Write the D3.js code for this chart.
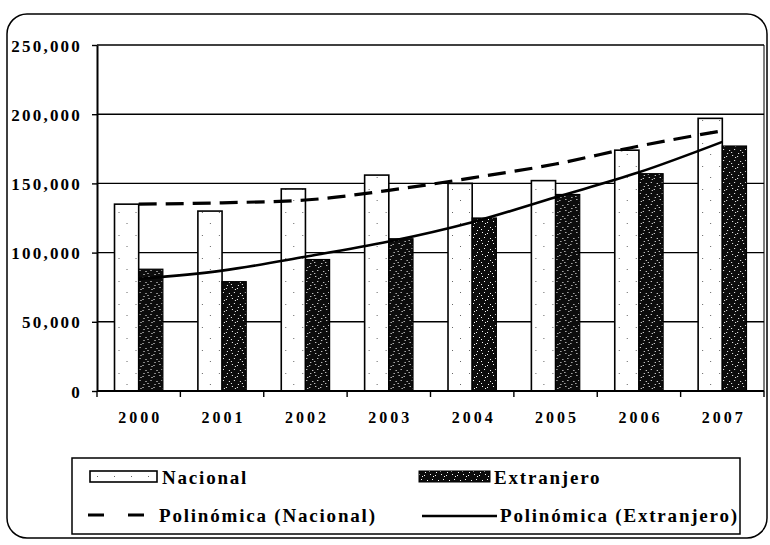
<!DOCTYPE html>
<html>
<head>
<meta charset="utf-8">
<script src="https://cdn.jsdelivr.net/npm/d3@7"></script>
<style>
  html, body { margin: 0; padding: 0; background: #fff; }
  text { font-family: "Liberation Serif", "DejaVu Serif", serif; font-weight: bold; fill: #000; }
</style>
</head>
<body>
<div id="chart"></div>
<script>
// values
const years = ["2000", "2001", "2002", "2003", "2004", "2005", "2006", "2007"];
const nacional = [135000, 130000, 146000, 156000, 150000, 152000, 174000, 197000];
const extranjero = [88000, 79000, 95000, 110000, 125000, 142000, 157000, 177000];
// trend lines (Excel "Polinómica"), read at each category centre
const tendNacional = [135000, 136000, 138000, 145000, 154000, 164000, 177000, 188000];
const tendExtranjero = [81000, 87000, 97000, 108000, 122000, 140000, 158000, 180000];
const yTicks = [0, 50000, 100000, 150000, 200000, 250000];

function chart_init() {

    /*************************
    ***** SET DIMENSIONS *****
    *************************/

    const width = 770;
    const height = 545;
    const plot = {left: 97, right: 764, top: 45, bottom: 391};

    const svg = d3.select("#chart")
        .append("svg")
        .attr("width", width)
        .attr("height", height);

    /*******************
    ***** PATTERNS *****
    *******************/

    const defs = svg.append("defs");

    // dark stipple for Extranjero
    const dark = defs.append("pattern")
        .attr("id", "darkDots")
        .attr("patternUnits", "userSpaceOnUse")
        .attr("width", 11).attr("height", 11);
    dark.append("rect").attr("width", 11).attr("height", 11).attr("fill", "#0c0c0c");
    [[1, 1], [6, 2], [3, 6], [9, 7], [0, 9], [7, 10], [4, 3]].forEach(p => {
        dark.append("rect").attr("x", p[0]).attr("y", p[1])
            .attr("width", 1).attr("height", 1).attr("fill", "#fff");
    });

    // light sparse stipple for Nacional
    const light = defs.append("pattern")
        .attr("id", "lightDots")
        .attr("patternUnits", "userSpaceOnUse")
        .attr("width", 17).attr("height", 23);
    light.append("rect").attr("width", 17).attr("height", 23).attr("fill", "#fff");
    [[4, 5], [12, 16]].forEach(p => {
        light.append("rect").attr("x", p[0]).attr("y", p[1])
            .attr("width", 1).attr("height", 1).attr("fill", "#666");
    });

    /*****************
    ***** SCALES *****
    *****************/

    const x0 = d3.scaleBand()
        .domain(years)
        .range([plot.left, plot.right])
        .paddingInner(0.42)
        .paddingOuter(0.21);

    const x1 = d3.scaleBand()
        .domain(["nacional", "extranjero"])
        .range([0, x0.bandwidth()]);

    const y = d3.scaleLinear()
        .domain([0, 250000])
        .range([plot.bottom, plot.top]);

    /**********************
    ***** OUTER FRAME *****
    **********************/

    svg.append("rect")
        .attr("x", 7).attr("y", 14)
        .attr("width", 760).attr("height", 524)
        .attr("rx", 20).attr("ry", 20)
        .attr("fill", "none")
        .attr("stroke", "#000")
        .attr("stroke-width", 1.5);

    /*****************************
    ***** APPEND AXES & GRID *****
    *****************************/

    // gridlines
    svg.append("g")
        .attr("class", "yGrid")
        .selectAll("line")
        .data(yTicks.filter(d => d > 0))
        .enter()
        .append("line")
        .attr("x1", plot.left).attr("x2", plot.right)
        .attr("y1", d => y(d)).attr("y2", d => y(d))
        .attr("stroke", "#000")
        .attr("stroke-width", 1.4);

    // right border of plot area
    svg.append("line")
        .attr("x1", plot.right).attr("x2", plot.right)
        .attr("y1", plot.top).attr("y2", plot.bottom)
        .attr("stroke", "#000")
        .attr("stroke-width", 1);

    // y-axis
    const yAxis = svg.append("g")
        .attr("class", "yAxis")
        .attr("transform", `translate(${plot.left},0)`)
        .call(d3.axisLeft(y).tickValues(yTicks).tickSize(5).tickSizeOuter(0)
            .tickFormat(d3.format(",")));
    yAxis.select(".domain").attr("stroke", "#000").attr("stroke-width", 2);
    yAxis.selectAll(".tick line").attr("stroke", "#000").attr("stroke-width", 1.4);
    yAxis.selectAll(".tick text")
        .attr("x", -15)
        .attr("dy", "0.36em")
        .style("font-size", "17px")
        .style("letter-spacing", "2.2px")
        .style("font-family", "'Liberation Serif', serif")
        .style("font-weight", "bold")
        .attr("fill", "#000");

    /*******************
    ***** BARS *****
    *******************/

    const groups = svg.append("g")
        .attr("id", "plot")
        .selectAll("g")
        .data(years.map((yr, i) => ({year: yr, nacional: nacional[i], extranjero: extranjero[i]})))
        .enter()
        .append("g")
        .attr("transform", d => `translate(${x0(d.year)},0)`);

    groups.append("rect")
        .attr("x", x1("nacional"))
        .attr("width", x1.bandwidth())
        .attr("y", d => y(d.nacional))
        .attr("height", d => y(0) - y(d.nacional))
        .attr("fill", "url(#lightDots)")
        .attr("stroke", "#000")
        .attr("stroke-width", 1.6);

    groups.append("rect")
        .attr("x", x1("extranjero"))
        .attr("width", x1.bandwidth())
        .attr("y", d => y(d.extranjero))
        .attr("height", d => y(0) - y(d.extranjero))
        .attr("fill", "url(#darkDots)")
        .attr("stroke", "#000")
        .attr("stroke-width", 1.2);

    // x-axis (drawn after bars so baseline sits on top)
    const xAxis = svg.append("g")
        .attr("class", "xAxis")
        .attr("transform", `translate(0,${plot.bottom})`);
    xAxis.append("line")
        .attr("x1", plot.left).attr("x2", plot.right)
        .attr("stroke", "#000").attr("stroke-width", 2);
    const step = x0.step();
    xAxis.selectAll(".xTick")
        .data(d3.range(years.length + 1))
        .enter()
        .append("line")
        .attr("class", "xTick")
        .attr("x1", i => plot.left + i * step)
        .attr("x2", i => plot.left + i * step)
        .attr("y1", 0).attr("y2", 6)
        .attr("stroke", "#000").attr("stroke-width", 1.4);
    xAxis.selectAll(".xLabel")
        .data(years)
        .enter()
        .append("text")
        .attr("class", "xLabel")
        .attr("x", d => x0(d) + x0.bandwidth() / 2 + 1.5)
        .attr("y", 32)
        .attr("text-anchor", "middle")
        .style("font-size", "16px")
        .style("letter-spacing", "3px")
        .text(d => d);

    /*********************
    ***** TREND LINES *****
    *********************/

    const line = d3.line()
        .x((d, i) => x0(years[i]) + x0.bandwidth() / 2)
        .y(d => y(d))
        .curve(d3.curveMonotoneX);

    svg.append("path")
        .datum(tendNacional)
        .attr("d", line)
        .attr("fill", "none")
        .attr("stroke", "#000")
        .attr("stroke-width", 3.2)
        .attr("stroke-dasharray", "18,9");

    svg.append("path")
        .datum(tendExtranjero)
        .attr("d", line)
        .attr("fill", "none")
        .attr("stroke", "#000")
        .attr("stroke-width", 2.6);

    /*****************
    ***** LEGEND *****
    *****************/

    const legend = svg.append("g").attr("id", "legend");

    legend.append("rect")
        .attr("x", 72).attr("y", 458)
        .attr("width", 668).attr("height", 76)
        .attr("fill", "none")
        .attr("stroke", "#000")
        .attr("stroke-width", 1.5);

    const legendText = (x, yy, t) => legend.append("text")
        .attr("x", x).attr("y", yy)
        .style("font-size", "19px")
        .style("letter-spacing", "1.8px")
        .text(t);

    legend.append("rect")
        .attr("x", 90).attr("y", 471).attr("width", 67).attr("height", 11)
        .attr("fill", "url(#lightDots)").attr("stroke", "#000").attr("stroke-width", 1.6);
    legendText(162, 484, "Nacional");

    legend.append("rect")
        .attr("x", 419).attr("y", 471).attr("width", 71).attr("height", 11)
        .attr("fill", "url(#darkDots)").attr("stroke", "#000").attr("stroke-width", 1);
    legendText(494, 484, "Extranjero");

    legend.append("line")
        .attr("x1", 88).attr("x2", 156).attr("y1", 515).attr("y2", 515)
        .attr("stroke", "#000").attr("stroke-width", 3.2)
        .attr("stroke-dasharray", "16,24");
    legendText(159, 522, "Polinómica (Nacional)");

    legend.append("line")
        .attr("x1", 422).attr("x2", 497).attr("y1", 516).attr("y2", 516)
        .attr("stroke", "#000").attr("stroke-width", 2.6);
    legendText(500, 522, "Polinómica (Extranjero)");
}

chart_init();
</script>
</body>
</html>
